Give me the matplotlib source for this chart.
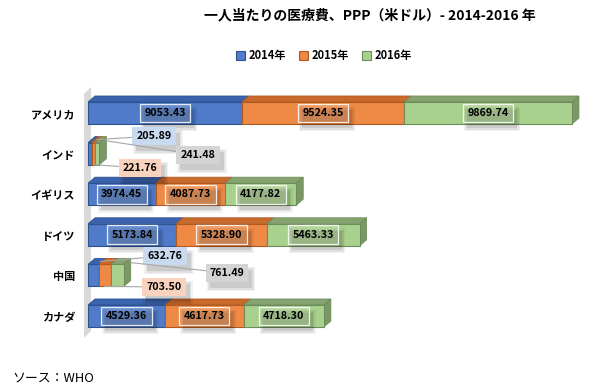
import matplotlib
matplotlib.use('Agg')
import matplotlib.pyplot as plt
from matplotlib.patches import Polygon, Rectangle
import numpy as np

plt.rcParams['font.family'] = ['Noto Sans CJK JP', 'DejaVu Sans']

categories = ['アメリカ', 'インド', 'イギリス', 'ドイツ', '中国', 'カナダ']
series_names = ['2014年', '2015年', '2016年']
v2014 = [9053.43, 205.89, 3974.45, 5173.84, 632.76, 4529.36]
v2015 = [9524.35, 221.76, 4087.73, 5328.90, 703.50, 4617.73]
v2016 = [9869.74, 241.48, 4177.82, 5463.33, 761.49, 4718.30]
series = [v2014, v2015, v2016]
title = '一人当たりの医療費、PPP（米ドル）- 2014-2016 年'
source = 'ソース：WHO'

W, H = 590, 391
fig = plt.figure(figsize=(W / 100, H / 100), dpi=100)
ax_l, ax_r, ax_t, ax_b = 80, 590, 85, 340
ax = fig.add_axes([ax_l / W, 1 - ax_b / H, (ax_r - ax_l) / W, (ax_b - ax_t) / H])

s = 0.01701      # px per data unit
x0px = 88
sp = 40.6        # px per category
n = len(categories)
ref_px = 113     # pixel row of the first category


def px_x(p):
    return (p - x0px) / s


def px_y(p):
    return (n - 1) - (p - ref_px) / sp


ax.set_xlim(px_x(ax_l), px_x(ax_r))
ax.set_ylim(px_y(ax_b), px_y(ax_t))
ax.set_autoscale_on(False)

dx = 7 / s
dy = 6 / sp
bh = 22 / sp

face = ['#4F7BC9', '#EE8A45', '#A9D18E']
edge = ['#2F528F', '#AE5A21', '#6E8C5A']
topc = ['#3A63AD', '#C96A2C', '#86A36F']
sidec = ['#35599C', '#B8622A', '#7A9765']

# back wall
wall = Polygon([(px_x(84), px_y(94)), (px_x(91), px_y(87)),
                (px_x(91), px_y(331)), (px_x(84), px_y(338))],
               closed=True, facecolor='#D9D9D9', edgecolor='none', zorder=0)
ax.add_patch(wall)

ypos = (n - 1) - np.arange(n)
left = np.zeros(n)
for k, vals in enumerate(series):
    vals = np.array(vals)
    ax.barh(ypos, vals, left=left, height=bh, color=face[k], edgecolor=edge[k],
            linewidth=0.8, zorder=3, label=series_names[k])
    for i in range(n):
        x0 = left[i]
        x1 = left[i] + vals[i]
        yt = ypos[i] + bh / 2
        yb = ypos[i] - bh / 2
        ax.add_patch(Polygon([(x0, yt), (x1, yt), (x1 + dx, yt + dy), (x0 + dx, yt + dy)],
                             closed=True, facecolor=topc[k], edgecolor=edge[k],
                             linewidth=0.6, zorder=2))
        if k == len(series) - 1:
            ax.add_patch(Polygon([(x1, yb), (x1, yt), (x1 + dx, yt + dy), (x1 + dx, yb + dy)],
                                 closed=True, facecolor=sidec[k], edgecolor=edge[k],
                                 linewidth=0.6, zorder=2))
    left = left + vals

totals = left

label_texts = []
inside = [0, 2, 3, 5]
lab_kw = dict(ha='center', va='center', fontsize=7.7, fontweight='bold', color='black')
left = np.zeros(n)
for k, vals in enumerate(series):
    for i in inside:
        xc = left[i] + vals[i] / 2
        yc = ypos[i]
        t = ax.text(xc, yc, f'{vals[i]:.2f}', zorder=6,
                    bbox=dict(boxstyle='square,pad=0.42', fc=(1, 1, 1, 0.15),
                              ec=(1, 1, 1, 0.85), lw=0.9), **lab_kw)
        label_texts.append(t)
    left = left + np.array(series[k])

# callouts for small bars
call_fc = ['#C9DAF0', '#F9D3BD', '#D4D4D4']
callouts = {
    1: [(154, 136), (140, 168), (198, 155)],
    4: [(165, 256), (164, 287), (227, 273)],
}
for i, pos in callouts.items():
    cum = [0, series[0][i], series[0][i] + series[1][i]]
    anchors = [
        (cum[0] + series[0][i] / 2 + dx, ypos[i] + bh / 2 + dy * 0.5),
        (cum[1] + series[1][i] / 2, ypos[i] - bh / 2),
        (totals[i] + dx, ypos[i] + bh / 2 + dy * 0.3),
    ]
    for k in range(3):
        tx, ty = px_x(pos[k][0]), px_y(pos[k][1])
        txt = f'{series[k][i]:.2f}'
        t = ax.annotate(txt, anchors[k], xytext=(tx, ty), textcoords='data', zorder=6,
                        bbox=dict(boxstyle='square,pad=0.38', fc=call_fc[k], ec='none'),
                        arrowprops=dict(arrowstyle='-', color='#A6A6A6', lw=0.8,
                                        shrinkA=0, shrinkB=0),
                        **lab_kw)
        label_texts.append(t)

ax.set_yticks(ypos)
ax.set_yticklabels(categories, fontsize=8, fontweight='bold')
ax.tick_params(axis='y', length=0, pad=3.6)
ax.set_xticks([])
for sp_ in ax.spines.values():
    sp_.set_visible(False)
ax.patch.set_alpha(0)

fig.text(370 / W, 1 - 15 / H, title, ha='center', va='center', fontsize=10,
         fontweight='bold')
handles, labels = ax.get_legend_handles_labels()
leg = fig.legend(handles, labels, loc='center', bbox_to_anchor=(324 / W, 1 - 56 / H), ncol=3,
                 frameon=False, prop=dict(size=8, weight='bold'), handlelength=0.8,
                 handleheight=0.8, handletextpad=0.3, columnspacing=1.2)
fig.text(12 / W, 1 - 378 / H, source, ha='left', va='center', fontsize=9.3)

# soft drop shadows behind the data label boxes (drawn below the labels)
fig.canvas.draw()
renderer = fig.canvas.get_renderer()
inv = ax.transData.inverted()
for t in label_texts:
    bb = t.get_bbox_patch().get_window_extent(renderer)
    for grow, a in [(3, 0.05), (1.5, 0.07), (0, 0.09)]:
        (dx0, dy0) = inv.transform((bb.x0 + 4 - grow, bb.y0 - 6 - grow))
        (dx1, dy1) = inv.transform((bb.x1 + 4 + grow, bb.y1 - 6 + grow))
        ax.add_patch(Rectangle((dx0, dy0), dx1 - dx0, dy1 - dy0, facecolor='black',
                               alpha=a, edgecolor='none', zorder=4, clip_on=False))

fig.savefig('out.png', dpi=100)
